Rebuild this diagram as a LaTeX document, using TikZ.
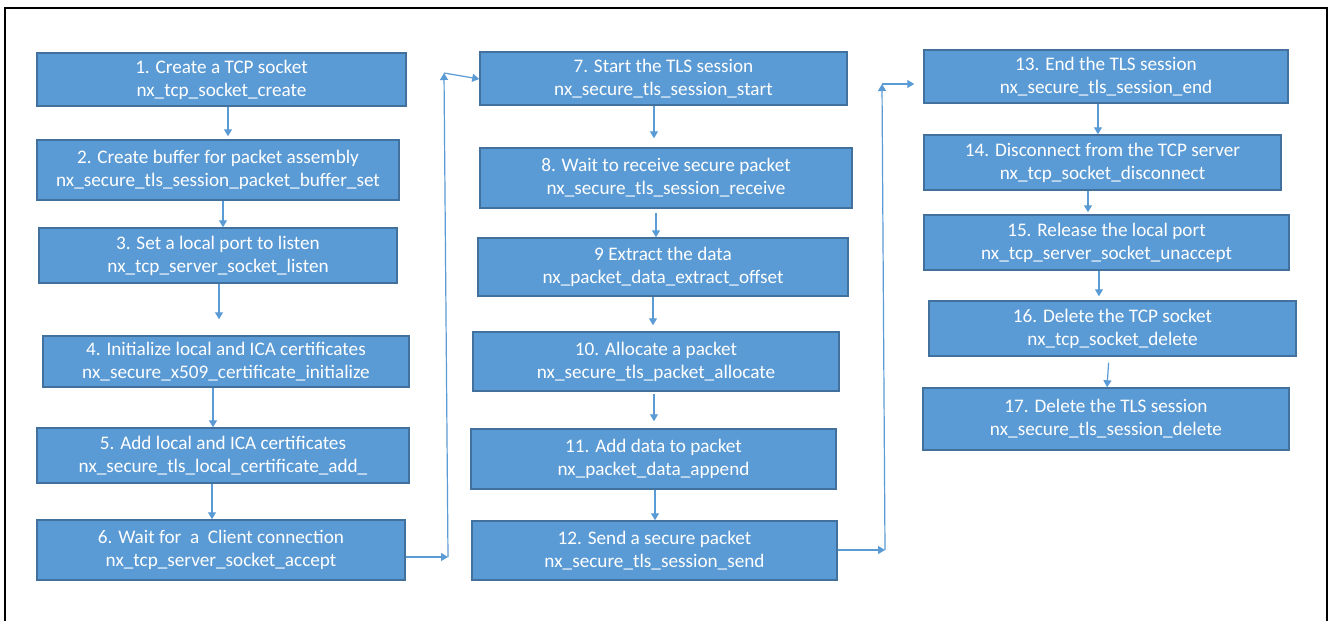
\documentclass[tikz,border=0pt]{standalone}
\usepackage{fontspec}
\setmainfont{Carlito}
\usetikzlibrary{arrows.meta}
\definecolor{boxblue}{HTML}{5B9BD5}
\definecolor{boxedge}{HTML}{41719C}
\definecolor{flowblue}{HTML}{5B9BD5}

\tikzset{
  stepbox/.style={draw=boxedge, line width=1.5pt, fill=boxblue, text=white,
    align=center, inner sep=0pt, font=\fontsize{19.2}{23}\selectfont},
  flow/.style={draw=flowblue, line width=1.2pt, -{Triangle[width=8pt,length=7pt]}}
}

\begin{document}
\begin{tikzpicture}[x=1pt, y=-1pt]
  \fill[white] (0,0) rectangle (1328,621);
  \useasboundingbox (0,0) rectangle (1328,621);
  \draw[line width=2.5pt] (5,625) |- (1326.8,7.8) -- (1326.8,625);

  % first column
  \node[stepbox, minimum width=369, minimum height=53] (b1) at (221.5,79.5) {1. Create a TCP socket\\nx\_tcp\_socket\_create};
  \node[stepbox, minimum width=362, minimum height=60] (b2) at (218,170) {2. Create buffer for packet assembly\\nx\_secure\_tls\_session\_packet\_buffer\_set};
  \node[stepbox, minimum width=358, minimum height=55] (b3) at (218,255.5) {3. Set a local port to listen\\nx\_tcp\_server\_socket\_listen};
  \node[stepbox, minimum width=366, minimum height=51] (b4) at (226,361.5) {4. Initialize local and ICA certificates\\nx\_secure\_x509\_certificate\_initialize};
  \node[stepbox, minimum width=372, minimum height=55] (b5) at (223,455.5) {5. Add local and ICA certificates\\nx\_secure\_tls\_local\_certificate\_add\_};
  \node[stepbox, minimum width=368, minimum height=60] (b6) at (221,550) {6. Wait for\ \ a\ \ Client connection\\nx\_tcp\_server\_socket\_accept};

  % second column
  \node[stepbox, minimum width=367, minimum height=53] (b7) at (663.5,78.5) {7. Start the TLS session\\nx\_secure\_tls\_session\_start};
  \node[stepbox, minimum width=372, minimum height=60] (b8) at (666,178) {8. Wait to receive secure packet\\nx\_secure\_tls\_session\_receive};
  \node[stepbox, minimum width=370, minimum height=58] (b9) at (663,267) {9 Extract the data\\nx\_packet\_data\_extract\_offset};
  \node[stepbox, minimum width=366, minimum height=59] (b10) at (656,361.5) {10. Allocate a packet\\nx\_secure\_tls\_packet\_allocate};
  \node[stepbox, minimum width=365, minimum height=60] (b11) at (653.5,459) {11. Add data to packet\\nx\_packet\_data\_append};
  \node[stepbox, minimum width=365, minimum height=59] (b12) at (654.5,550.5) {12. Send a secure packet\\nx\_secure\_tls\_session\_send};

  % third column
  \node[stepbox, minimum width=364, minimum height=53] (b13) at (1106,76.5) {13. End the TLS session\\nx\_secure\_tls\_session\_end};
  \node[stepbox, minimum width=357, minimum height=55] (b14) at (1102.5,162.5) {14. Disconnect from the TCP server\\nx\_tcp\_socket\_disconnect};
  \node[stepbox, minimum width=365, minimum height=55] (b15) at (1106.5,242.5) {15. Release the local port\\nx\_tcp\_server\_socket\_unaccept};
  \node[stepbox, minimum width=367, minimum height=55] (b16) at (1112.5,328.5) {16. Delete the TCP socket\\nx\_tcp\_socket\_delete};
  \node[stepbox, minimum width=366, minimum height=62] (b17) at (1106,419) {17. Delete the TLS session\\nx\_secure\_tls\_session\_delete};

  % arrows down the columns
  \draw[flow, shorten >=3] ([xshift=6.5]b1.south) -- ([xshift=10]b2.north);
  \draw[flow] ([xshift=5]b2.south) -- ([xshift=5]b3.north);
  \draw[flow, shorten >=16] ([xshift=1]b3.south) -- ([xshift=-7]b4.north);
  \draw[flow] ([xshift=-13]b4.south) -- ([xshift=-10]b5.north);
  \draw[flow] ([xshift=-11]b5.south) -- ([xshift=-9]b6.north);

  \draw[flow, shorten >=9] ([xshift=-9.5]b7.south) -- ([xshift=-12]b8.north);
  \draw[flow, shorten <=4] ([xshift=-10]b8.south) -- ([xshift=-7]b9.north);
  \draw[flow, shorten >=6] ([xshift=-10]b9.south) -- ([xshift=-3]b10.north);
  \draw[flow, shorten <=2, shorten >=7] ([xshift=-2]b10.south) -- ([xshift=0.5]b11.north);
  \draw[flow] ([xshift=1.5]b11.south) -- ([xshift=0.5]b12.north);

  \draw[flow] ([xshift=-8]b13.south) -- ([xshift=-4.5]b14.north);
  \draw[flow, shorten >=2] ([xshift=-14.5]b14.south) -- ([xshift=-18.5]b15.north);
  \draw[flow, shorten >=4] ([xshift=-7.5]b15.south) -- ([xshift=-13.5]b16.north);
  \draw[flow, shorten <=6] ([xshift=-3.5]b16.south) -- ([xshift=1]b17.north);

  % links between the columns
  \coordinate (up1low) at (448,557);
  \coordinate (up1top) at (444,73);
  \draw[flow] ([yshift=-7]b6.east) -- (up1low);
  \draw[flow] (up1low) -- (up1top);
  \draw[flow] (up1top) -- ([yshift=-0.5]b7.west);

  \coordinate (up2low) at (885,550);
  \coordinate (up2top) at (882,84);
  \draw[flow] ([yshift=0.5]b12.east) -- (up2low);
  \draw[flow] (up2low) -- (up2top);
  \draw[flow] (up2top) -- ([xshift=-9, yshift=-7.5]b13.west);
\end{tikzpicture}
\end{document}
